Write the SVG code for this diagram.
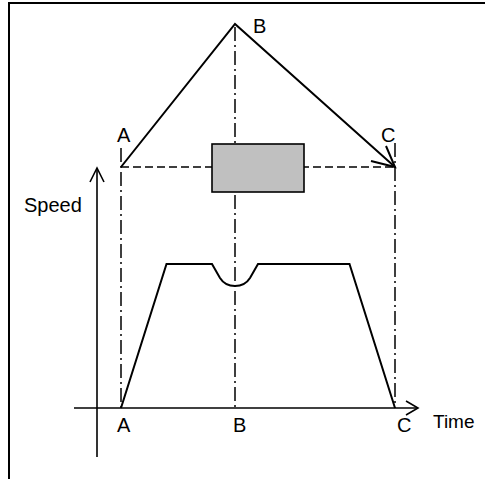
<svg xmlns="http://www.w3.org/2000/svg" width="485" height="479" viewBox="0 0 485 479">
<style>
.t{font-family:"Liberation Sans",Arial,sans-serif;font-size:20px;fill:#000}
.s{fill:none;stroke:#000;stroke-width:2;stroke-linejoin:miter}
.ax{fill:none;stroke:#000;stroke-width:1.6}
.dd{fill:none;stroke:#000;stroke-width:1.5;stroke-dasharray:14 4 2 4}
.da{fill:none;stroke:#000;stroke-width:1.5;stroke-dasharray:8 4}
</style>
<rect width="485" height="479" fill="#fff"/>
<g id="frame"><path class="s" d="M9,479 V3 H485"/></g>
<g id="guides">
<line class="dd" x1="121" y1="148" x2="121" y2="408"/>
<line class="dd" x1="235" y1="27" x2="235" y2="408"/>
<line class="dd" x1="395" y1="143" x2="395" y2="408"/>
<line class="da" x1="121" y1="167" x2="395" y2="167"/>
</g>
<g id="block"><rect x="212" y="144" width="92" height="48" fill="#c0c0c0" stroke="#000" stroke-width="1.6"/></g>
<g id="path-ABC">
<polyline class="s" points="121,167 235,24 395,167"/>
<polyline class="s" points="371,161 395,167 386,146"/>
</g>
<g id="axes">
<line class="ax" x1="97" y1="168" x2="97" y2="457"/>
<polyline class="ax" points="90,182 97,168 104,182"/>
<line class="ax" x1="74" y1="408" x2="418" y2="408"/>
<polyline class="ax" points="406,401 418,408 406,415"/>
</g>
<g id="profile">
<path class="s" d="M121,408 L166.5,264 H212 L220,278 Q225,286 235,286 Q245,286 250,278 L258,264 H349.5 L395,408"/>
</g>
<g id="labels">
<text class="t" x="117" y="142">A</text>
<text class="t" x="253" y="33">B</text>
<text class="t" x="381" y="142">C</text>
<text class="t" x="24" y="212">Speed</text>
<text class="t" x="117" y="432">A</text>
<text class="t" x="233" y="432">B</text>
<text class="t" x="397" y="432">C</text>
<text class="t" x="433" y="428" style="font-size:19px">Time</text>
</g>
</svg>
